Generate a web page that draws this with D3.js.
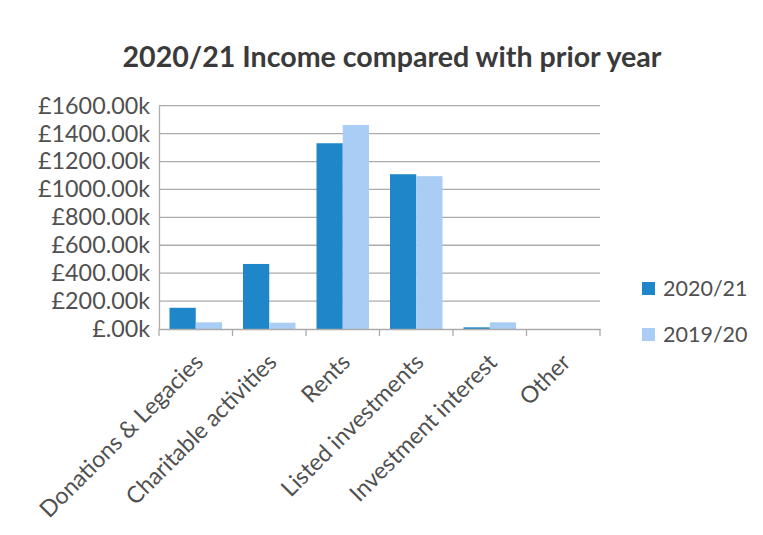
<!DOCTYPE html>
<html><head><meta charset="utf-8">
<script src="https://cdn.jsdelivr.net/npm/d3@7"></script>
<style>body{margin:0;background:#fff}svg{display:block}</style>
</head><body>
<svg id="chart" width="763" height="535"></svg>
<script>
const categories = ["Donations & Legacies","Charitable activities","Rents","Listed investments","Investment interest","Other"];
const seriesNames = ["2020/21","2019/20"];
const values2021 = [152, 466, 1331, 1109, 12, 0];
const values1920 = [48, 45, 1462, 1095, 48, 0];
const yTicks = [0,200,400,600,800,1000,1200,1400,1600];
const yTickLabels = ["£.00k","£200.00k","£400.00k","£600.00k","£800.00k","£1000.00k","£1200.00k","£1400.00k","£1600.00k"];
const colors = ["#1e86c9","#a9cdf4"];

(function(){
const svg = d3.select("#chart");
const font = "Lato, 'Open Sans', sans-serif";
const pLeft = 159, pRight = 600, pTop = 105.7, pBottom = 329;

const x = d3.scaleBand().domain(categories).range([pLeft, pRight]).paddingInner(0).paddingOuter(0);
const y = d3.scaleLinear().domain([0,1600]).range([pBottom, pTop]);
const xs = d3.scaleBand().domain(seriesNames).range([0, x.bandwidth()]).paddingOuter(0.4).paddingInner(0);

svg.append("text").attr("x", 392).attr("y", 67).attr("text-anchor","middle")
  .attr("font-family", font).attr("font-weight","bold").attr("font-size", 28.6)
  .attr("fill","#3a3a3a").text("2020/21 Income compared with prior year");

svg.append("g").selectAll("line").data(yTicks.slice(1)).join("line")
  .attr("x1", pLeft).attr("x2", pRight).attr("y1", d=>y(d)).attr("y2", d=>y(d))
  .attr("stroke","#ababab").attr("stroke-width",1.3);

const yAxis = d3.axisLeft(y).tickValues(yTicks).tickFormat((d,i)=>yTickLabels[i]).tickSize(0).tickPadding(9);
const gy = svg.append("g").attr("transform",`translate(${pLeft},0)`).call(yAxis);
gy.select(".domain").attr("stroke","#ababab").attr("stroke-width",1.3);
gy.selectAll("text").attr("font-family",font).attr("font-size",23.3).attr("fill","#505050");

const data = categories.map((c,i)=>({c, v:[values2021[i], values1920[i]]}));
const groups = svg.append("g").selectAll("g").data(data).join("g")
  .attr("transform", d=>`translate(${x(d.c)},0)`);
groups.selectAll("rect").data(d=>d.v.map((v,j)=>({v, s:seriesNames[j], j}))).join("rect")
  .attr("x", d=>xs(d.s)).attr("width", xs.bandwidth())
  .attr("y", d=>y(d.v)).attr("height", d=>pBottom - y(d.v))
  .attr("fill", d=>colors[d.j]);

const xAxis = d3.axisBottom(x).tickSize(0).tickFormat("");
const gx = svg.append("g").attr("transform",`translate(0,${pBottom})`).call(xAxis);
gx.select(".domain").attr("stroke","#ababab").attr("stroke-width",1.3);
const bounds = categories.map(c=>x(c)).concat([pRight]);
svg.append("g").selectAll("line").data(bounds).join("line")
  .attr("x1",d=>d).attr("x2",d=>d).attr("y1",pBottom).attr("y2",pBottom+7)
  .attr("stroke","#ababab").attr("stroke-width",1.3);

svg.append("g").selectAll("text").data(categories).join("text")
  .attr("transform", d=>`translate(${x(d)+x.bandwidth()/2+3},${pBottom+29}) rotate(-45)`)
  .attr("text-anchor","end").attr("dy","0.35em")
  .attr("font-family",font).attr("font-size",23.2).attr("fill","#505050")
  .text(d=>d);

const lg = svg.append("g").selectAll("g").data(seriesNames).join("g")
  .attr("transform",(d,i)=>`translate(642,${288.5 + i*46})`);
lg.append("rect").attr("x",0).attr("y",-6.5).attr("width",13).attr("height",13).attr("fill",(d,i)=>colors[i]);
lg.append("text").attr("x",21).attr("y",0).attr("dy","0.35em")
  .attr("font-family",font).attr("font-size",21.5).attr("fill","#505050").text(d=>d);
})();
</script>
</body></html>
